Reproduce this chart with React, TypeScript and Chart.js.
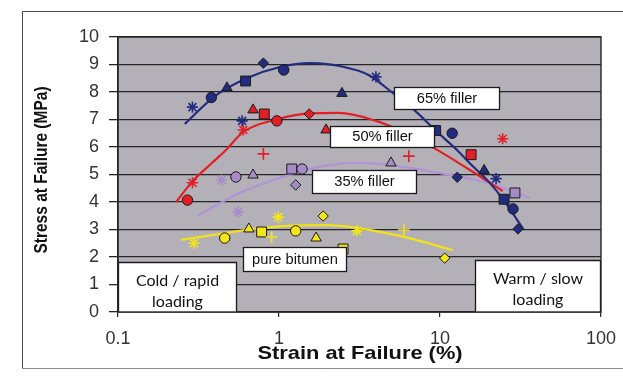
import React, { useEffect, useRef } from 'react';
import { Chart, registerables } from 'chart.js';

Chart.register(...registerables);

// ---------- axis ticks ----------
const xTickValues = [0.1, 1, 10, 100];
const xTickLabels = ['0.1', '1', '10', '100'];
const yMin = 0;
const yMax = 10;
const yStep = 1;

// ---------- 65% filler ----------
const f65Strain = [0.29, 0.38, 0.475, 0.62, 0.8, 1.07, 0.59, 2.46, 4.0, 9.4, 11.9, 12.8, 18.8, 22.3, 25, 28.4, 30.5];
const f65Stress = [7.45, 7.8, 8.15, 8.4, 9.05, 8.8, 6.95, 7.95, 8.55, 6.6, 6.5, 4.9, 5.15, 4.85, 4.1, 3.75, 3.02];
const f65Marker = ['star', 'circle', 'triangle', 'square', 'diamond', 'circle', 'star', 'triangle', 'star', 'square', 'circle', 'diamond', 'triangle', 'star', 'square', 'circle', 'diamond'];
const f65FitStrain = [0.26, 0.4, 0.63, 1, 1.58, 2.5, 3.6, 5, 6.9, 9.4, 12.7, 16, 20, 25, 33];
const f65FitStress = [6.84, 7.85, 8.5, 8.9, 9.05, 8.92, 8.62, 8.0, 7.35, 6.6, 5.9, 5.3, 4.75, 4.05, 3.0];

// ---------- 50% filler ----------
const f50Strain = [0.27, 0.29, 0.6, 0.69, 0.81, 0.97, 0.8, 1.54, 1.96, 6.4, 15.6, 24.5];
const f50Stress = [4.07, 4.7, 6.62, 7.35, 7.2, 6.95, 5.75, 7.2, 6.62, 5.67, 5.72, 6.3];
const f50Marker = ['circle', 'star', 'star', 'triangle', 'square', 'circle', 'plus', 'diamond', 'triangle', 'plus', 'square', 'star'];
const f50FitStrain = [0.23, 0.29, 0.38, 0.47, 0.6, 0.96, 1.54, 2.36, 4, 5.56, 9.2, 15, 24.5];
const f50FitStress = [4.0, 4.75, 5.4, 5.9, 6.55, 7.0, 7.22, 7.24, 6.95, 6.62, 5.96, 5.2, 4.4];

// ---------- 35% filler ----------
const f35Strain = [0.44, 0.54, 0.69, 0.556, 1.2, 1.39, 1.27, 4.96, 29.2];
const f35Stress = [4.8, 4.91, 4.98, 3.64, 5.2, 5.2, 4.62, 5.42, 4.33];
const f35Marker = ['star', 'circle', 'triangle', 'star', 'square', 'circle', 'diamond', 'triangle', 'square'];
const f35FitStrain = [0.31, 0.57, 1.15, 2.0, 3.1, 4.8, 10, 20, 36];
const f35FitStress = [3.49, 4.33, 4.98, 5.33, 5.42, 5.35, 5.05, 4.69, 4.15];

// ---------- pure bitumen ----------
const pbStrain = [0.296, 0.46, 0.65, 0.78, 0.9, 0.99, 1.27, 1.7, 1.88, 2.5, 3.05, 5.97, 10.7];
const pbStress = [2.5, 2.69, 3.02, 2.91, 2.73, 3.45, 2.95, 2.69, 3.49, 2.29, 2.95, 2.98, 1.96];
const pbMarker = ['star', 'circle', 'triangle', 'square', 'plus', 'star', 'circle', 'triangle', 'diamond', 'square', 'star', 'plus', 'diamond'];
const pbFitStrain = [0.246, 0.5, 0.65, 1.3, 2.0, 3.1, 6, 12];
const pbFitStress = [2.62, 2.9, 3.0, 3.15, 3.16, 3.05, 2.73, 2.25];

// ---------- styles ----------
const FONT = "'Liberation Sans', Arial, sans-serif";
const PLOT_BG = '#B4B0B8';
const GRID = '#252525';
const OUTLINE = '#1a1a1a';

const MARK: Record<string, { style: string; r: number; line: boolean }> = {
  circle: { style: 'circle', r: 5.2, line: false },
  triangle: { style: 'triangle', r: 6, line: false },
  square: { style: 'rect', r: 7, line: false },
  diamond: { style: 'rectRot', r: 5.2, line: false },
  star: { style: 'star', r: 5.6, line: true },
  plus: { style: 'cross', r: 5.8, line: true },
};

const series = [
  { x: f65Strain, y: f65Stress, m: f65Marker, fx: f65FitStrain, fy: f65FitStress, color: '#232B7E', line: '#232B7E' },
  { x: f50Strain, y: f50Stress, m: f50Marker, fx: f50FitStrain, fy: f50FitStress, color: '#E31E24', line: '#E31E24' },
  { x: f35Strain, y: f35Stress, m: f35Marker, fx: f35FitStrain, fy: f35FitStress, color: '#A68BC9', line: '#B293D6' },
  { x: pbStrain, y: pbStress, m: pbMarker, fx: pbFitStrain, fy: pbFitStress, color: '#F3E51C', line: '#F0E31A' },
];

function stretchText(ctx: CanvasRenderingContext2D, text: string, cx: number, cy: number, sx: number) {
  ctx.save();
  ctx.translate(cx, cy);
  ctx.scale(sx, 1);
  ctx.textAlign = 'center';
  ctx.textBaseline = 'middle';
  ctx.fillText(text, 0, 0);
  ctx.restore();
}

function labelBox(ctx: CanvasRenderingContext2D, x0: number, y0: number, x1: number, y1: number, text: string) {
  ctx.save();
  ctx.fillStyle = '#ffffff';
  ctx.fillRect(x0, y0, x1 - x0, y1 - y0);
  ctx.strokeStyle = OUTLINE;
  ctx.lineWidth = 1.3;
  ctx.strokeRect(x0 + 0.5, y0 + 0.5, x1 - x0 - 1, y1 - y0 - 1);
  ctx.fillStyle = '#111';
  ctx.font = `14px ${FONT}`;
  stretchText(ctx, text, (x0 + x1) / 2, (y0 + y1) / 2 + 0.5, 1.05);
  ctx.restore();
}

function cornerBox(ctx: CanvasRenderingContext2D, area: any, x0: number, y0: number, x1: number, lines: string[]) {
  ctx.save();
  ctx.beginPath();
  ctx.rect(area.left, area.top, area.right - area.left, area.bottom - area.top);
  ctx.clip();
  const y1 = area.bottom;
  ctx.fillStyle = '#ffffff';
  ctx.fillRect(x0, y0, x1 - x0, y1 - y0);
  ctx.strokeStyle = OUTLINE;
  ctx.lineWidth = 1.3;
  ctx.beginPath();
  ctx.moveTo(x0 + 0.5, y1);
  ctx.lineTo(x0 + 0.5, y0 + 0.5);
  ctx.lineTo(x1 - 0.5, y0 + 0.5);
  ctx.lineTo(x1 - 0.5, y1);
  ctx.stroke();
  ctx.fillStyle = '#111';
  ctx.font = `16px Lato, 'Open Sans', sans-serif`;
  const cx = (x0 + x1) / 2;
  lines.forEach((t, i) => stretchText(ctx, t, cx, y0 + 19 + i * 21, 1));
  ctx.restore();
}

const decor = {
  id: 'decor',
  beforeDraw(chart: any) {
    const { ctx, chartArea: a } = chart;
    ctx.save();
    ctx.fillStyle = '#ffffff';
    ctx.fillRect(0, 0, chart.width, chart.height);
    ctx.strokeStyle = '#4a4a4a';
    ctx.lineWidth = 1;
    ctx.beginPath();
    ctx.moveTo(chart.width, 11.5);
    ctx.lineTo(22.5, 11.5);
    ctx.lineTo(22.5, 368.5);
    ctx.stroke();
    ctx.strokeStyle = '#8a8a8a';
    ctx.beginPath();
    ctx.moveTo(22.5, 368.5);
    ctx.lineTo(chart.width, 368.5);
    ctx.stroke();
    ctx.fillStyle = PLOT_BG;
    ctx.fillRect(a.left, a.top, a.right - a.left, a.bottom - a.top);
    ctx.restore();
  },
  afterDatasetsDraw(chart: any) {
    const { ctx, chartArea: a } = chart;
    labelBox(ctx, 394, 87, 500, 110, '65% filler');
    labelBox(ctx, 330, 126, 435, 148, '50% filler');
    labelBox(ctx, 312, 170, 417, 194, '35% filler');
    labelBox(ctx, 243, 247, 347, 272, 'pure bitumen');
    cornerBox(ctx, a, a.left, 262, 237, ['Cold / rapid', 'loading']);
    cornerBox(ctx, a, 475, 260, a.right, ['Warm / slow', 'loading']);
  },
  afterDraw(chart: any) {
    const { ctx, chartArea: a } = chart;
    ctx.save();
    ctx.strokeStyle = GRID;
    ctx.lineWidth = 1.4;
    ctx.strokeRect(a.left, a.top, a.right - a.left, a.bottom - a.top);
    ctx.fillStyle = '#111';
    ctx.font = `bold 19px ${FONT}`;
    stretchText(ctx, 'Strain at Failure (%)', 360, 354, 1.15);
    ctx.translate(42, 170);
    ctx.rotate(-Math.PI / 2);
    ctx.scale(1, 1.15);
    ctx.font = `bold 15.5px ${FONT}`;
    ctx.textAlign = 'center';
    ctx.textBaseline = 'middle';
    ctx.fillText('Stress at Failure (MPa)', 0, 0);
    ctx.restore();
  },
};

export default function App() {
  const ref = useRef<HTMLCanvasElement>(null);

  useEffect(() => {
    const canvas = ref.current;
    if (!canvas) return;
    const datasets: any[] = [];
    series.forEach((s) => {
      datasets.push({
        type: 'scatter',
        data: s.x.map((x, i) => ({ x, y: s.y[i] })),
        pointStyle: s.m.map((k) => MARK[k].style),
        pointRadius: s.m.map((k) => MARK[k].r),
        pointHoverRadius: s.m.map((k) => MARK[k].r),
        pointBackgroundColor: s.m.map(() => s.color),
        pointBorderColor: s.m.map((k) => (MARK[k].line ? s.color : OUTLINE)),
        pointBorderWidth: s.m.map((k) => (MARK[k].line ? 1.6 : 1)),
        showLine: false,
        order: 0,
      });
      datasets.push({
        type: 'line',
        data: s.fx.map((x, i) => ({ x, y: s.fy[i] })),
        borderColor: s.line,
        borderWidth: 2.2,
        pointRadius: 0,
        fill: false,
        cubicInterpolationMode: 'monotone',
        order: 1,
      });
    });

    const chart = new Chart(canvas, {
      type: 'scatter',
      data: { datasets },
      options: {
        responsive: false,
        animation: false,
        events: [],
        layout: { padding: { top: 37, right: 22, left: 0, bottom: 0 } },
        plugins: { legend: { display: false }, tooltip: { enabled: false } },
        scales: {
          x: {
            type: 'logarithmic',
            min: xTickValues[0],
            max: xTickValues[xTickValues.length - 1],
            afterBuildTicks: (scale: any) => {
              scale.ticks = xTickValues.map((value) => ({ value }));
            },
            afterFit: (scale: any) => {
              scale.height = 66;
              scale.paddingLeft = 0;
              scale.paddingRight = 0;
            },
            ticks: {
              autoSkip: false,
              maxRotation: 0,
              padding: 11,
              color: '#333',
              font: { family: FONT, size: 18 },
              callback: (v: any) => {
                const i = xTickValues.indexOf(Number(v));
                return i >= 0 ? xTickLabels[i] : '';
              },
            },
            grid: { drawOnChartArea: false, drawTicks: true, tickLength: 5, color: GRID, lineWidth: 1.2 },
            border: { display: true, color: GRID, width: 1.4 },
          },
          y: {
            min: yMin,
            max: yMax,
            afterFit: (scale: any) => {
              scale.width = 118;
            },
            ticks: {
              stepSize: yStep,
              padding: 10,
              color: '#333',
              font: { family: FONT, size: 18 },
            },
            grid: { color: GRID, lineWidth: 1.3, drawTicks: true, tickLength: 9 },
            border: { display: true, color: GRID, width: 1.4 },
          },
        },
      },
      plugins: [decor],
    } as any);

    return () => chart.destroy();
  }, []);

  return (
    <div style={{ position: 'absolute', left: 0, top: 0, width: 623, height: 378 }}>
      <canvas ref={ref} width={623} height={378} style={{ display: 'block', width: 623, height: 378 }} />
    </div>
  );
}
